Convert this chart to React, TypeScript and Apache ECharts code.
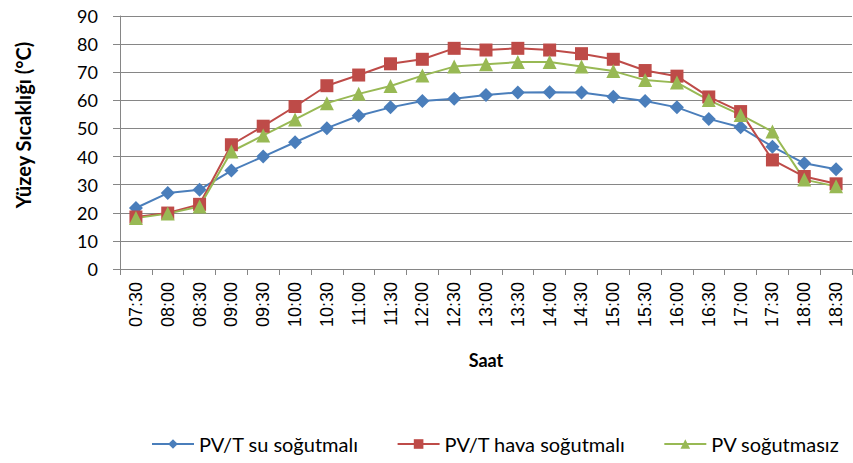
import React, { useEffect, useRef } from "react";
import * as echarts from "echarts";

const categories = ["07:30","08:00","08:30","09:00","09:30","10:00","10:30","11:00","11:30","12:00","12:30","13:00","13:30","14:00","14:30","15:00","15:30","16:00","16:30","17:00","17:30","18:00","18:30"];
const suSogutmali = [21.7,27.0,28.2,35.0,40.0,45.1,50.1,54.5,57.5,59.8,60.6,61.9,62.8,62.9,62.8,61.3,59.8,57.5,53.4,50.4,43.5,37.6,35.5];
const havaSogutmali = [18.5,19.9,23.0,44.2,50.8,57.8,65.2,69.0,73.0,74.6,78.5,77.9,78.5,77.9,76.6,74.6,70.6,68.6,61.2,56.0,38.8,32.9,30.3];
const sogutmasiz = [18.1,19.7,22.2,41.8,47.5,53.2,59.0,62.3,65.1,68.8,72.0,72.8,73.6,73.6,72.0,70.4,67.2,66.3,60.1,54.8,48.9,31.8,29.4];
const seriesNames = ["PV/T su soğutmalı", "PV/T hava soğutmalı", "PV soğutmasız"];
const yTicks = { min: 0, max: 90, interval: 10 };
const yTitle = "Yüzey Sıcaklığı (°C)";
const xTitle = "Saat";

const FONT = "Lato";

export default function App() {
  const ref = useRef<HTMLDivElement>(null);
  useEffect(() => {
    if (!ref.current) return;
    const chart = echarts.init(ref.current, null, { renderer: "svg" });
    const lineStyleBase = { width: 2 };
    chart.setOption({
      animation: false,
      textStyle: { fontFamily: FONT },
      grid: { left: 120, right: 1, top: 16, bottom: 194, containLabel: false },
      legend: {
        top: 429,
        left: 146,
        itemWidth: 42,
        itemHeight: 12,
        itemGap: 38,
        textStyle: { fontFamily: FONT, fontSize: 20, color: "#000" },
        data: seriesNames,
      },
      graphic: [
        {
          type: "text",
          x: 23,
          y: 125,
          rotation: Math.PI / 2,
          style: {
            text: yTitle,
            fontFamily: FONT,
            fontSize: 20,
            fontWeight: "bold",
            fill: "#000",
            textAlign: "center",
            textVerticalAlign: "middle",
          },
        },
      ],
      xAxis: {
        type: "category",
        data: categories,
        boundaryGap: true,
        name: xTitle,
        nameLocation: "middle",
        nameGap: 82,
        nameTextStyle: { fontFamily: FONT, fontSize: 18, fontWeight: "bold", color: "#000" },
        axisLine: { lineStyle: { color: "#868686", width: 1 } },
        axisTick: { show: true, alignWithLabel: false, length: 6, lineStyle: { color: "#868686" } },
        axisLabel: { rotate: 90, fontFamily: "Liberation Sans", fontSize: 18, color: "#000", margin: 13, interval: 0 },
      },
      yAxis: {
        type: "value",
        min: yTicks.min,
        max: yTicks.max,
        interval: yTicks.interval,
        axisLine: { show: true, lineStyle: { color: "#868686", width: 1 } },
        axisTick: { show: true, length: 7, lineStyle: { color: "#868686" } },
        axisLabel: { fontFamily: FONT, fontSize: 18, color: "#000", margin: 22 },
        splitLine: { show: true, lineStyle: { color: "#868686", width: 1 } },
      },
      series: [
        {
          name: seriesNames[0],
          type: "line",
          data: suSogutmali,
          symbol: "diamond",
          symbolSize: 14,
          itemStyle: { color: "#4A7EBB" },
          lineStyle: { ...lineStyleBase, color: "#4A7EBB" },
        },
        {
          name: seriesNames[1],
          type: "line",
          data: havaSogutmali,
          symbol: "rect",
          symbolSize: 13,
          itemStyle: { color: "#BE4B48" },
          lineStyle: { ...lineStyleBase, color: "#BE4B48" },
        },
        {
          name: seriesNames[2],
          type: "line",
          data: sogutmasiz,
          symbol: "triangle",
          symbolSize: 14,
          itemStyle: { color: "#98B954" },
          lineStyle: { ...lineStyleBase, color: "#98B954" },
        },
      ],
    });
    return () => chart.dispose();
  }, []);
  return <div ref={ref} style={{ width: 853, height: 463, position: "absolute", left: 0, top: 0 }} />;
}
